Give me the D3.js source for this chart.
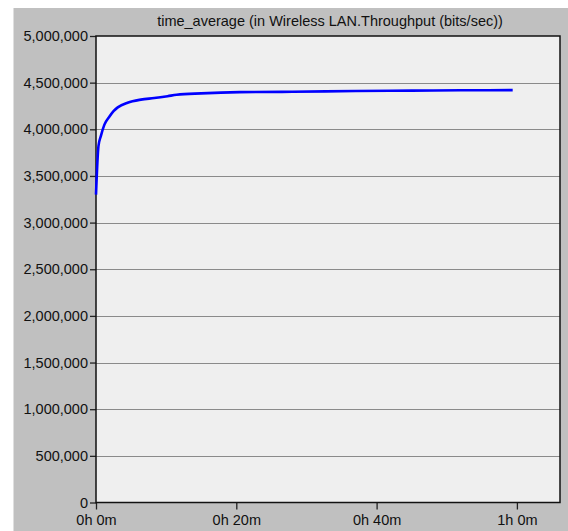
<!DOCTYPE html>
<html>
<head>
<meta charset="utf-8">
<script src="https://cdn.jsdelivr.net/npm/d3@7"></script>
<style>
  body { margin: 0; background: #ffffff; }
  svg text { font-family: "Liberation Sans", Arial, sans-serif; fill: #111; }
</style>
</head>
<body>
<div id="chart"></div>
<script>
// time in minutes, throughput in bits/sec
const minutes = [0, 0.35, 0.7, 1.2, 1.9, 2.5, 3.1, 4.5, 6.4, 8.3, 10.2, 11.5, 15, 20.5, 28, 37, 45, 52, 59.4]
const throughput = [3300000, 3820000, 3930000, 4050000, 4135000, 4195000, 4235000, 4285000, 4318000, 4335000, 4355000, 4370000, 4385000, 4398000, 4402000, 4410000, 4415000, 4418000, 4420000]
const yTicks = [0, 500000, 1000000, 1500000, 2000000, 2500000, 3000000, 3500000, 4000000, 4500000, 5000000]
const xTicks = [0, 20, 40, 60]
const title = "time_average (in Wireless LAN.Throughput (bits/sec))"

const data = minutes.map((m, i) => ({ t: m, v: throughput[i] }))

const W = 568, H = 531
const plot = { left: 96, right: 560, top: 36, bottom: 502.5 }

const svg = d3.select("#chart").append("svg")
    .attr("width", W)
    .attr("height", H)

// grey panel
svg.append("rect")
    .attr("x", 13.5).attr("y", 8)
    .attr("width", W - 13.5).attr("height", H - 8)
    .attr("fill", "#c0c0c0")

const xScale = d3.scaleLinear()
    .domain([0, (plot.right - plot.left) / 140.3 * 20])
    .range([plot.left, plot.right])

const yScale = d3.scaleLinear()
    .domain([0, 5000000])
    .range([plot.bottom, plot.top])

// plot background
svg.append("rect")
    .attr("x", plot.left).attr("y", plot.top)
    .attr("width", plot.right - plot.left).attr("height", plot.bottom - plot.top)
    .attr("fill", "#efefef")

// gridlines
svg.append("g")
    .selectAll("line")
    .data(yTicks.filter(d => d > 0 && d < 5000000))
    .enter()
    .append("line")
    .attr("x1", plot.left).attr("x2", plot.right)
    .attr("y1", d => Math.round(yScale(d)) + 0.5)
    .attr("y2", d => Math.round(yScale(d)) + 0.5)
    .attr("stroke", "#8a8a8a")
    .attr("stroke-width", 1.2)

// y axis
const leftAxis = d3.axisLeft(yScale)
    .tickValues(yTicks)
    .tickFormat(d3.format(","))
    .tickSize(6)
    .tickSizeOuter(0)
    .tickPadding(2)

const yAxisG = svg.append("g")
    .attr("transform", `translate(${plot.left},0)`)
    .call(leftAxis)
yAxisG.select(".domain").remove()
yAxisG.selectAll(".tick line").attr("stroke", "#222").attr("stroke-width", 1.3)
yAxisG.selectAll(".tick text")
    .style("font-size", "14.5px")
    .style("font-family", "'Liberation Sans', Arial, sans-serif")
    .attr("fill", "#111")

// x axis
const fmtTime = m => `${Math.floor(m / 60)}h ${m % 60}m`
const bottomAxis = d3.axisBottom(xScale)
    .tickValues(xTicks)
    .tickFormat(fmtTime)
    .tickSize(7)
    .tickSizeOuter(0)
    .tickPadding(5)

const xAxisG = svg.append("g")
    .attr("transform", `translate(0,${plot.bottom})`)
    .call(bottomAxis)
xAxisG.select(".domain").remove()
xAxisG.selectAll(".tick line").attr("stroke", "#222").attr("stroke-width", 1.3)
xAxisG.selectAll(".tick text")
    .style("font-size", "14.5px")
    .style("font-family", "'Liberation Sans', Arial, sans-serif")
    .attr("fill", "#111")

// frame
svg.append("rect")
    .attr("x", plot.left).attr("y", plot.top)
    .attr("width", plot.right - plot.left).attr("height", plot.bottom - plot.top)
    .attr("fill", "none")
    .attr("stroke", "#111")
    .attr("stroke-width", 1.5)

// the curve
const line = d3.line()
    .x(d => xScale(d.t))
    .y(d => yScale(d.v))
    .curve(d3.curveMonotoneX)

svg.append("path")
    .datum(data)
    .attr("d", line)
    .attr("fill", "none")
    .attr("stroke", "#0000ff")
    .attr("stroke-width", 2.6)
    .attr("stroke-linejoin", "round")

// title
svg.append("text")
    .attr("x", (plot.left + plot.right) / 2 + 2)
    .attr("y", 26)
    .attr("text-anchor", "middle")
    .style("font-size", "14.5px")
    .text(title)
</script>
</body>
</html>
